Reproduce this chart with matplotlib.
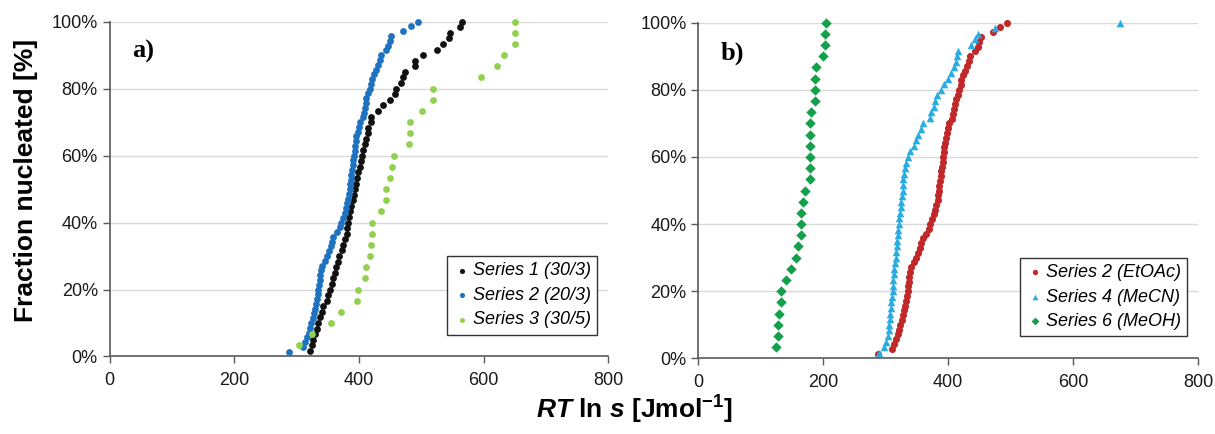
import matplotlib
matplotlib.use("Agg")
import matplotlib.pyplot as plt
from matplotlib.ticker import FuncFormatter

plt.rcParams['font.family'] = ['Liberation Sans', 'DejaVu Sans']
plt.rcParams['mathtext.fontset'] = 'custom'
plt.rcParams['mathtext.rm'] = 'Liberation Sans'
plt.rcParams['mathtext.bf'] = 'Liberation Sans:bold'
plt.rcParams['mathtext.it'] = 'Liberation Sans:italic'
plt.rcParams['mathtext.bfit'] = 'Liberation Sans:italic:bold'

# RT ln s values (J/mol), sorted; each series is an empirical cumulative distribution
series1_30_3 = [321, 325, 327, 330, 332, 335, 337, 340, 343, 348,
                351, 354, 356, 359, 361, 363, 366, 368, 372, 375,
                378, 380, 381, 382, 384, 386, 388, 390, 392, 394,
                395, 397, 399, 401, 403, 405, 407, 409, 412, 415,
                415, 419, 420, 431, 439, 450, 458, 460, 468, 471,
                474, 490, 490, 503, 525, 535, 545, 546, 562, 565]

series2_20_3 = [288, 310, 313, 317, 320, 322, 323, 326, 328, 330,
                331, 332, 334, 335, 336, 337, 338, 339, 341, 346,
                349, 352, 355, 357, 359, 365, 369, 371, 374, 377,
                379, 381, 383, 384, 385, 386, 387, 388, 389, 390,
                391, 392, 393, 394, 395, 396, 398, 400, 402, 406,
                408, 410, 411, 412, 415, 417, 420, 421, 424, 427,
                430, 434, 435, 443, 447, 450, 452, 471, 483, 494]

series3_30_5 = [304, 324, 355, 371, 397, 399, 410, 411, 418, 419,
                421, 421, 435, 444, 444, 450, 453, 456, 480, 482,
                482, 501, 518, 518, 595, 622, 633, 651, 651, 651]

# panel b) - Series 2 (EtOAc) is the same data set as Series 2 (20/3)
series4_mecn = [289, 297, 300, 303, 305, 306, 307, 307, 308, 309,
                310, 311, 312, 312, 313, 314, 315, 316, 317, 318,
                318, 319, 320, 321, 322, 323, 324, 325, 326, 327,
                328, 328, 330, 331, 333, 335, 339, 345, 349, 352,
                356, 360, 371, 373, 377, 379, 382, 389, 394, 400,
                405, 409, 413, 414, 416, 437, 443, 447, 475, 675]

series6_meoh = [125, 127, 128, 129, 132, 132, 140, 149, 156, 160,
                164, 165, 165, 168, 171, 178, 179, 179, 179, 179,
                179, 181, 186, 186, 187, 189, 200, 202, 203, 205]

X_TICKS = [0, 200, 400, 600, 800]
Y_TICKS = [0, 20, 40, 60, 80, 100]


def cum_fraction(values):
    n = len(values)
    return [100.0 * (i + 1) / n for i in range(n)]


def style_axes(ax):
    ax.set_xlim(0, 800)
    ax.set_ylim(0, 100)
    ax.set_xticks(X_TICKS)
    ax.set_yticks(Y_TICKS)
    ax.yaxis.set_major_formatter(FuncFormatter(lambda v, p: f"{v:.0f}%"))
    ax.grid(True, axis='y', color='#d9d9d9', linewidth=1.0)
    ax.set_axisbelow(True)
    for side in ['top', 'right']:
        ax.spines[side].set_visible(False)
    for side in ['left', 'bottom']:
        ax.spines[side].set_color('#5a5a5a')
        ax.spines[side].set_linewidth(1.2)
    ax.tick_params(axis='both', direction='out', length=5, width=1.0,
                   color='#5a5a5a', labelsize=13, labelcolor='#1a1a1a')
    ax.tick_params(axis='x', pad=6)


fig = plt.figure(figsize=(12.15, 4.34), dpi=100)
ax_a = fig.add_axes([0.0902, 0.1786, 0.4105, 0.7714])
ax_b = fig.add_axes([0.5747, 0.1744, 0.4115, 0.7733])

# panel a)
ax_a.scatter(series1_30_3, cum_fraction(series1_30_3), s=24, color='#111111',
             label='Series 1 (30/3)', clip_on=False, zorder=3, linewidths=0)
ax_a.scatter(series2_20_3, cum_fraction(series2_20_3), s=24, color='#1f72c0',
             label='Series 2 (20/3)', clip_on=False, zorder=3, linewidths=0)
ax_a.scatter(series3_30_5, cum_fraction(series3_30_5), s=24, color='#92d050',
             label='Series 3 (30/5)', clip_on=False, zorder=3, linewidths=0)

# panel b)
ax_b.scatter(series2_20_3, cum_fraction(series2_20_3), s=26, color='#c0282a',
             marker='o', label='Series 2 (EtOAc)', clip_on=False, zorder=3, linewidths=0)
ax_b.scatter(series4_mecn, cum_fraction(series4_mecn), s=30, color='#2aace2',
             marker='^', label='Series 4 (MeCN)', clip_on=False, zorder=3, linewidths=0)
ax_b.scatter(series6_meoh, cum_fraction(series6_meoh), s=28, color='#14a04a',
             marker='D', label='Series 6 (MeOH)', clip_on=False, zorder=3, linewidths=0)

for ax in (ax_a, ax_b):
    style_axes(ax)
    leg = ax.legend(loc='lower right', bbox_to_anchor=(0.978, 0.065),
                    prop={'style': 'italic', 'size': 13},
                    fancybox=False, framealpha=1, edgecolor='#333333',
                    handletextpad=0.1, handlelength=1.0, labelspacing=0.42,
                    borderpad=0.35, borderaxespad=0.0, markerscale=0.75)
    leg.get_frame().set_linewidth(1.0)

ax_a.text(0.045, 0.945, 'a)', transform=ax_a.transAxes, ha='left', va='top',
          fontsize=19, fontweight='bold', family='Liberation Serif')
ax_b.text(0.045, 0.945, 'b)', transform=ax_b.transAxes, ha='left', va='top',
          fontsize=19, fontweight='bold', family='Liberation Serif')

fig.text(0.021, 0.585, 'Fraction nucleated [%]', rotation=90, ha='center', va='center',
         fontsize=19, fontweight='bold')
fig.text(0.522, 0.055, r'$\mathbfit{RT}\ \mathbf{ln}\ \mathbfit{s}\ \mathbf{[Jmol^{-1}]}$',
         ha='center', va='center', fontsize=19)

fig.savefig('out.png', dpi=100)
